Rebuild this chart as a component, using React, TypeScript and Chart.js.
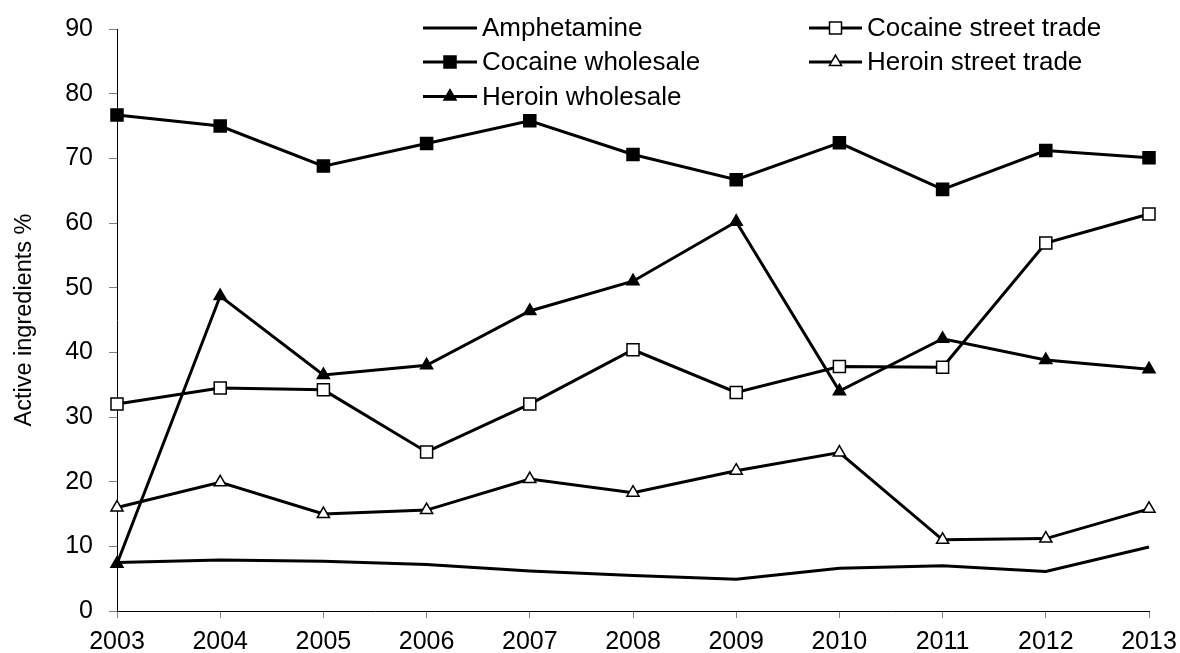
import React, { useEffect, useRef } from "react";
import { Chart, registerables } from "chart.js";

Chart.register(...registerables);

const years = ["2003", "2004", "2005", "2006", "2007", "2008", "2009", "2010", "2011", "2012", "2013"];
const amphetamine = [7.5, 7.9, 7.7, 7.2, 6.2, 5.5, 4.9, 6.6, 7.0, 6.1, 9.9];
const cocaineStreet = [32.0, 34.5, 34.2, 24.6, 32.0, 40.4, 33.8, 37.8, 37.7, 56.9, 61.4];
const cocaineWholesale = [76.7, 75.0, 68.8, 72.3, 75.8, 70.6, 66.7, 72.4, 65.2, 71.2, 70.1];
const heroinStreet = [16.0, 19.9, 15.0, 15.6, 20.4, 18.3, 21.7, 24.5, 11.0, 11.2, 15.8];
const heroinWholesale = [7.3, 48.7, 36.5, 38.0, 46.4, 51.0, 60.2, 34.0, 42.1, 38.8, 37.4];
const yTitle = "Active ingredients %";

const FONT = "'Liberation Sans', Arial, sans-serif";

function drawMarker(ctx: CanvasRenderingContext2D, style: string, r: number, x: number, y: number) {
  ctx.beginPath();
  if (style === "rect") {
    const s = Math.SQRT1_2 * r;
    ctx.rect(x - s, y - s, 2 * s, 2 * s);
  } else {
    ctx.moveTo(x, y - r);
    ctx.lineTo(x + Math.sin(Math.PI * 2 / 3) * r, y + 0.5 * r);
    ctx.lineTo(x - Math.sin(Math.PI * 2 / 3) * r, y + 0.5 * r);
    ctx.closePath();
  }
  ctx.fill();
  ctx.stroke();
}

const legendPlugin = {
  id: "customLegend",
  afterDraw(chart: any) {
    const ctx = chart.ctx;
    const cols = [
      { x0: 423, x1: 477 },
      { x0: 809, x1: 862 },
    ];
    const rowY = [28, 62, 96.5];
    const dsets = chart.data.datasets;
    ctx.save();
    dsets.forEach((ds: any, i: number) => {
      const col = cols[i % 2];
      const y = rowY[Math.floor(i / 2)];
      ctx.strokeStyle = "#000";
      ctx.lineWidth = 3;
      ctx.beginPath();
      ctx.moveTo(col.x0, y);
      ctx.lineTo(col.x1, y);
      ctx.stroke();
      if (ds.pointRadius > 0) {
        ctx.fillStyle = ds.pointBackgroundColor;
        ctx.strokeStyle = ds.pointBorderColor;
        ctx.lineWidth = ds.pointBorderWidth;
        drawMarker(ctx, ds.pointStyle, ds.pointRadius, (col.x0 + col.x1) / 2, y);
      }
      ctx.fillStyle = "#000";
      ctx.font = `26px ${FONT}`;
      ctx.textAlign = "left";
      ctx.textBaseline = "middle";
      ctx.fillText(ds.label, col.x1 + 5, y + 1);
    });
    ctx.restore();
  },
};

function series(label: string, data: number[], style: string | null, filled: boolean) {
  return {
    label,
    data,
    borderColor: "#000",
    borderWidth: 3,
    backgroundColor: "#000",
    pointStyle: style || "circle",
    pointRadius: style ? (style === "rect" ? 8.5 : 7) : 0,
    pointHoverRadius: style ? (style === "rect" ? 8.5 : 7) : 0,
    pointBackgroundColor: filled ? "#000" : "#fff",
    pointBorderColor: "#000",
    pointBorderWidth: 1.5,
    tension: 0,
    fill: false,
  };
}

export default function App() {
  const ref = useRef<HTMLCanvasElement | null>(null);
  useEffect(() => {
    document.body.style.margin = "0";
    const canvas = ref.current;
    if (!canvas) return;
    const chart = new Chart(canvas, {
      type: "line",
      data: {
        labels: years,
        datasets: [
          series("Amphetamine", amphetamine, null, true),
          series("Cocaine street trade", cocaineStreet, "rect", false),
          series("Cocaine wholesale", cocaineWholesale, "rect", true),
          series("Heroin street trade", heroinStreet, "triangle", false),
          series("Heroin wholesale", heroinWholesale, "triangle", true),
        ] as any,
      },
      options: {
        animation: false,
        responsive: true,
        maintainAspectRatio: false,
        layout: { padding: { top: 29, right: 31, left: 0, bottom: 0 } },
        plugins: {
          legend: { display: false },
          tooltip: { enabled: false },
        },
        scales: {
          x: {
            type: "category",
            offset: false,
            grid: {
              display: true,
              drawOnChartArea: false,
              drawTicks: true,
              tickLength: 7,
              color: "#808080",
            },
            border: { display: true, color: "#000", width: 1 },
            ticks: {
              color: "#000",
              font: { family: FONT, size: 25 },
              padding: 9,
              autoSkip: false,
              maxRotation: 0,
            },
            afterFit(scale: any) {
              scale.height = 42;
              scale.paddingLeft = 0;
              scale.paddingRight = 0;
            },
          },
          y: {
            min: 0,
            max: 90,
            grid: {
              display: true,
              drawOnChartArea: false,
              drawTicks: true,
              tickLength: 8,
              color: "#808080",
            },
            border: { display: true, color: "#000", width: 1 },
            ticks: {
              stepSize: 10,
              color: "#000",
              font: { family: FONT, size: 25 },
              padding: 16,
            },
            title: {
              display: true,
              text: yTitle,
              color: "#000",
              font: { family: FONT, size: 23.5 },
              padding: { top: 10, bottom: 0 },
            },
            afterFit(scale: any) {
              scale.width = 117;
              scale.paddingTop = 0;
              scale.paddingBottom = 0;
            },
          },
        },
      } as any,
      plugins: [legendPlugin],
    });
    return () => chart.destroy();
  }, []);
  return (
    <div style={{ position: "relative", width: 1180, height: 653, background: "#fff" }}>
      <canvas ref={ref} />
    </div>
  );
}
